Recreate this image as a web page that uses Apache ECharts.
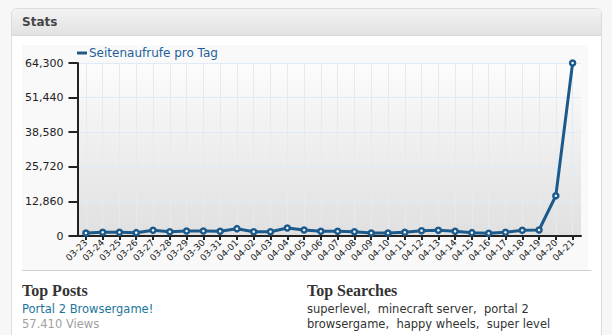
<!DOCTYPE html>
<html><head><meta charset="utf-8">
<script src="https://cdn.jsdelivr.net/npm/echarts@6/dist/echarts.min.js"></script>
<style>
html,body{margin:0;padding:0;}
body{width:612px;height:335px;background:#f7f7f7;position:relative;overflow:hidden;font-family:"DejaVu Sans",Verdana,sans-serif;}
#box{position:absolute;left:11px;top:8px;width:589px;height:340px;background:#fff;border:1px solid #dcdcdc;border-radius:6px;}
#hdr{position:absolute;left:0;top:0;right:0;height:26px;background:linear-gradient(#f3f3f3,#e2e2e2);border-bottom:1px solid #d8d8d8;border-radius:6px 6px 0 0;}
#hdr span{position:absolute;left:10px;top:5px;font-size:12px;font-weight:bold;color:#464646;line-height:16px;}
#chart{position:absolute;left:22px;top:45px;width:566px;height:225px;background:#f9f9f9;}
#sep{position:absolute;left:22px;top:270px;width:569px;height:1px;background:#cfcfcf;}
.t{position:absolute;white-space:nowrap;}
.h{font-family:"Liberation Serif","Times New Roman",serif;font-weight:bold;font-size:16px;line-height:16px;color:#333;}
.s{font-size:11.5px;line-height:16px;}
</style></head>
<body>
<div id="box"><div id="hdr"><span>Stats</span></div></div>
<div id="chart"></div>
<div id="sep"></div>
<div class="t h" style="left:22px;top:283px;">Top Posts</div>
<div class="t s" style="left:22px;top:301px;color:#21759b;">Portal 2 Browsergame!</div>
<div class="t s" style="left:22px;top:316px;color:#a0a0a0;">57.410 Views</div>
<div class="t h" style="left:307px;top:283px;">Top Searches</div>
<div class="t s" style="left:307px;top:301px;color:#333;">superlevel,&nbsp; minecraft server,&nbsp; portal 2</div>
<div class="t s" style="left:307px;top:316px;color:#333;">browsergame,&nbsp; happy wheels,&nbsp; super level</div>
<script>
const categories = ['03-23','03-24','03-25','03-26','03-27','03-28','03-29','03-30','03-31',
  '04-01','04-02','04-03','04-04','04-05','04-06','04-07','04-08','04-09','04-10','04-11',
  '04-12','04-13','04-14','04-15','04-16','04-17','04-18','04-19','04-20','04-21'];
const pageViews = [1100,1360,1360,1240,2100,1610,1860,1860,1740,
  2730,1610,1610,2980,2230,1740,1740,1610,1100,1100,1360,
  1980,2100,1740,1240,990,1360,2100,2230,14950,64300];
const yTicks = [0,12860,25720,38580,51440,64300];
const seriesName = 'Seitenaufrufe pro Tag';

const blue = '#1d5a8c';
const gridColor = '#e1eaf7';
const chart = echarts.init(document.getElementById('chart'), null, {renderer:'svg'});
chart.setOption({
  animation:false,
  textStyle:{fontFamily:'"DejaVu Sans", Verdana, sans-serif'},
  legend:{
    data:[{name:seriesName}],
    left:55, top:2, padding:0,
    icon:'rect', itemWidth:10, itemHeight:3,
    itemStyle:{color:blue, borderWidth:0},
    textStyle:{color:'#1f5f9c', fontSize:12, padding:[0,0,0,-3]}
  },
  grid:{
    left:55, right:7, top:18, bottom:34, show:true, borderWidth:0,
    backgroundColor:new echarts.graphic.LinearGradient(0,0,0,1,[{offset:0,color:'#fcfcfc'},{offset:1,color:'#e0e0e0'}])
  },
  xAxis:{
    type:'category', data:categories, boundaryGap:true,
    axisLine:{lineStyle:{color:'#222', width:2}},
    axisTick:{show:true, alignWithLabel:true, length:4, lineStyle:{color:'#222', width:2}},
    axisLabel:{rotate:45, fontSize:9, color:'#222', margin:5, interval:0},
    splitLine:{show:true, alignWithLabel:true, lineStyle:{color:gridColor, width:1}}
  },
  yAxis:{
    type:'value', min:yTicks[0], max:yTicks[yTicks.length-1], interval:yTicks[1]-yTicks[0],
    axisLine:{show:true, lineStyle:{color:'#222', width:2}},
    axisTick:{show:true, length:9, lineStyle:{color:'#222', width:2}},
    axisLabel:{fontSize:11, color:'#222', margin:14, formatter:v=>v.toLocaleString('en-US')},
    splitLine:{show:true, lineStyle:{color:gridColor, width:1}}
  },
  series:[{
    name:seriesName, type:'line', data:pageViews,
    symbol:'circle', symbolSize:5,
    itemStyle:{color:'#fff', borderColor:blue, borderWidth:2.5},
    lineStyle:{color:blue, width:3},
    z:3
  }]
});
</script>
</body></html>
